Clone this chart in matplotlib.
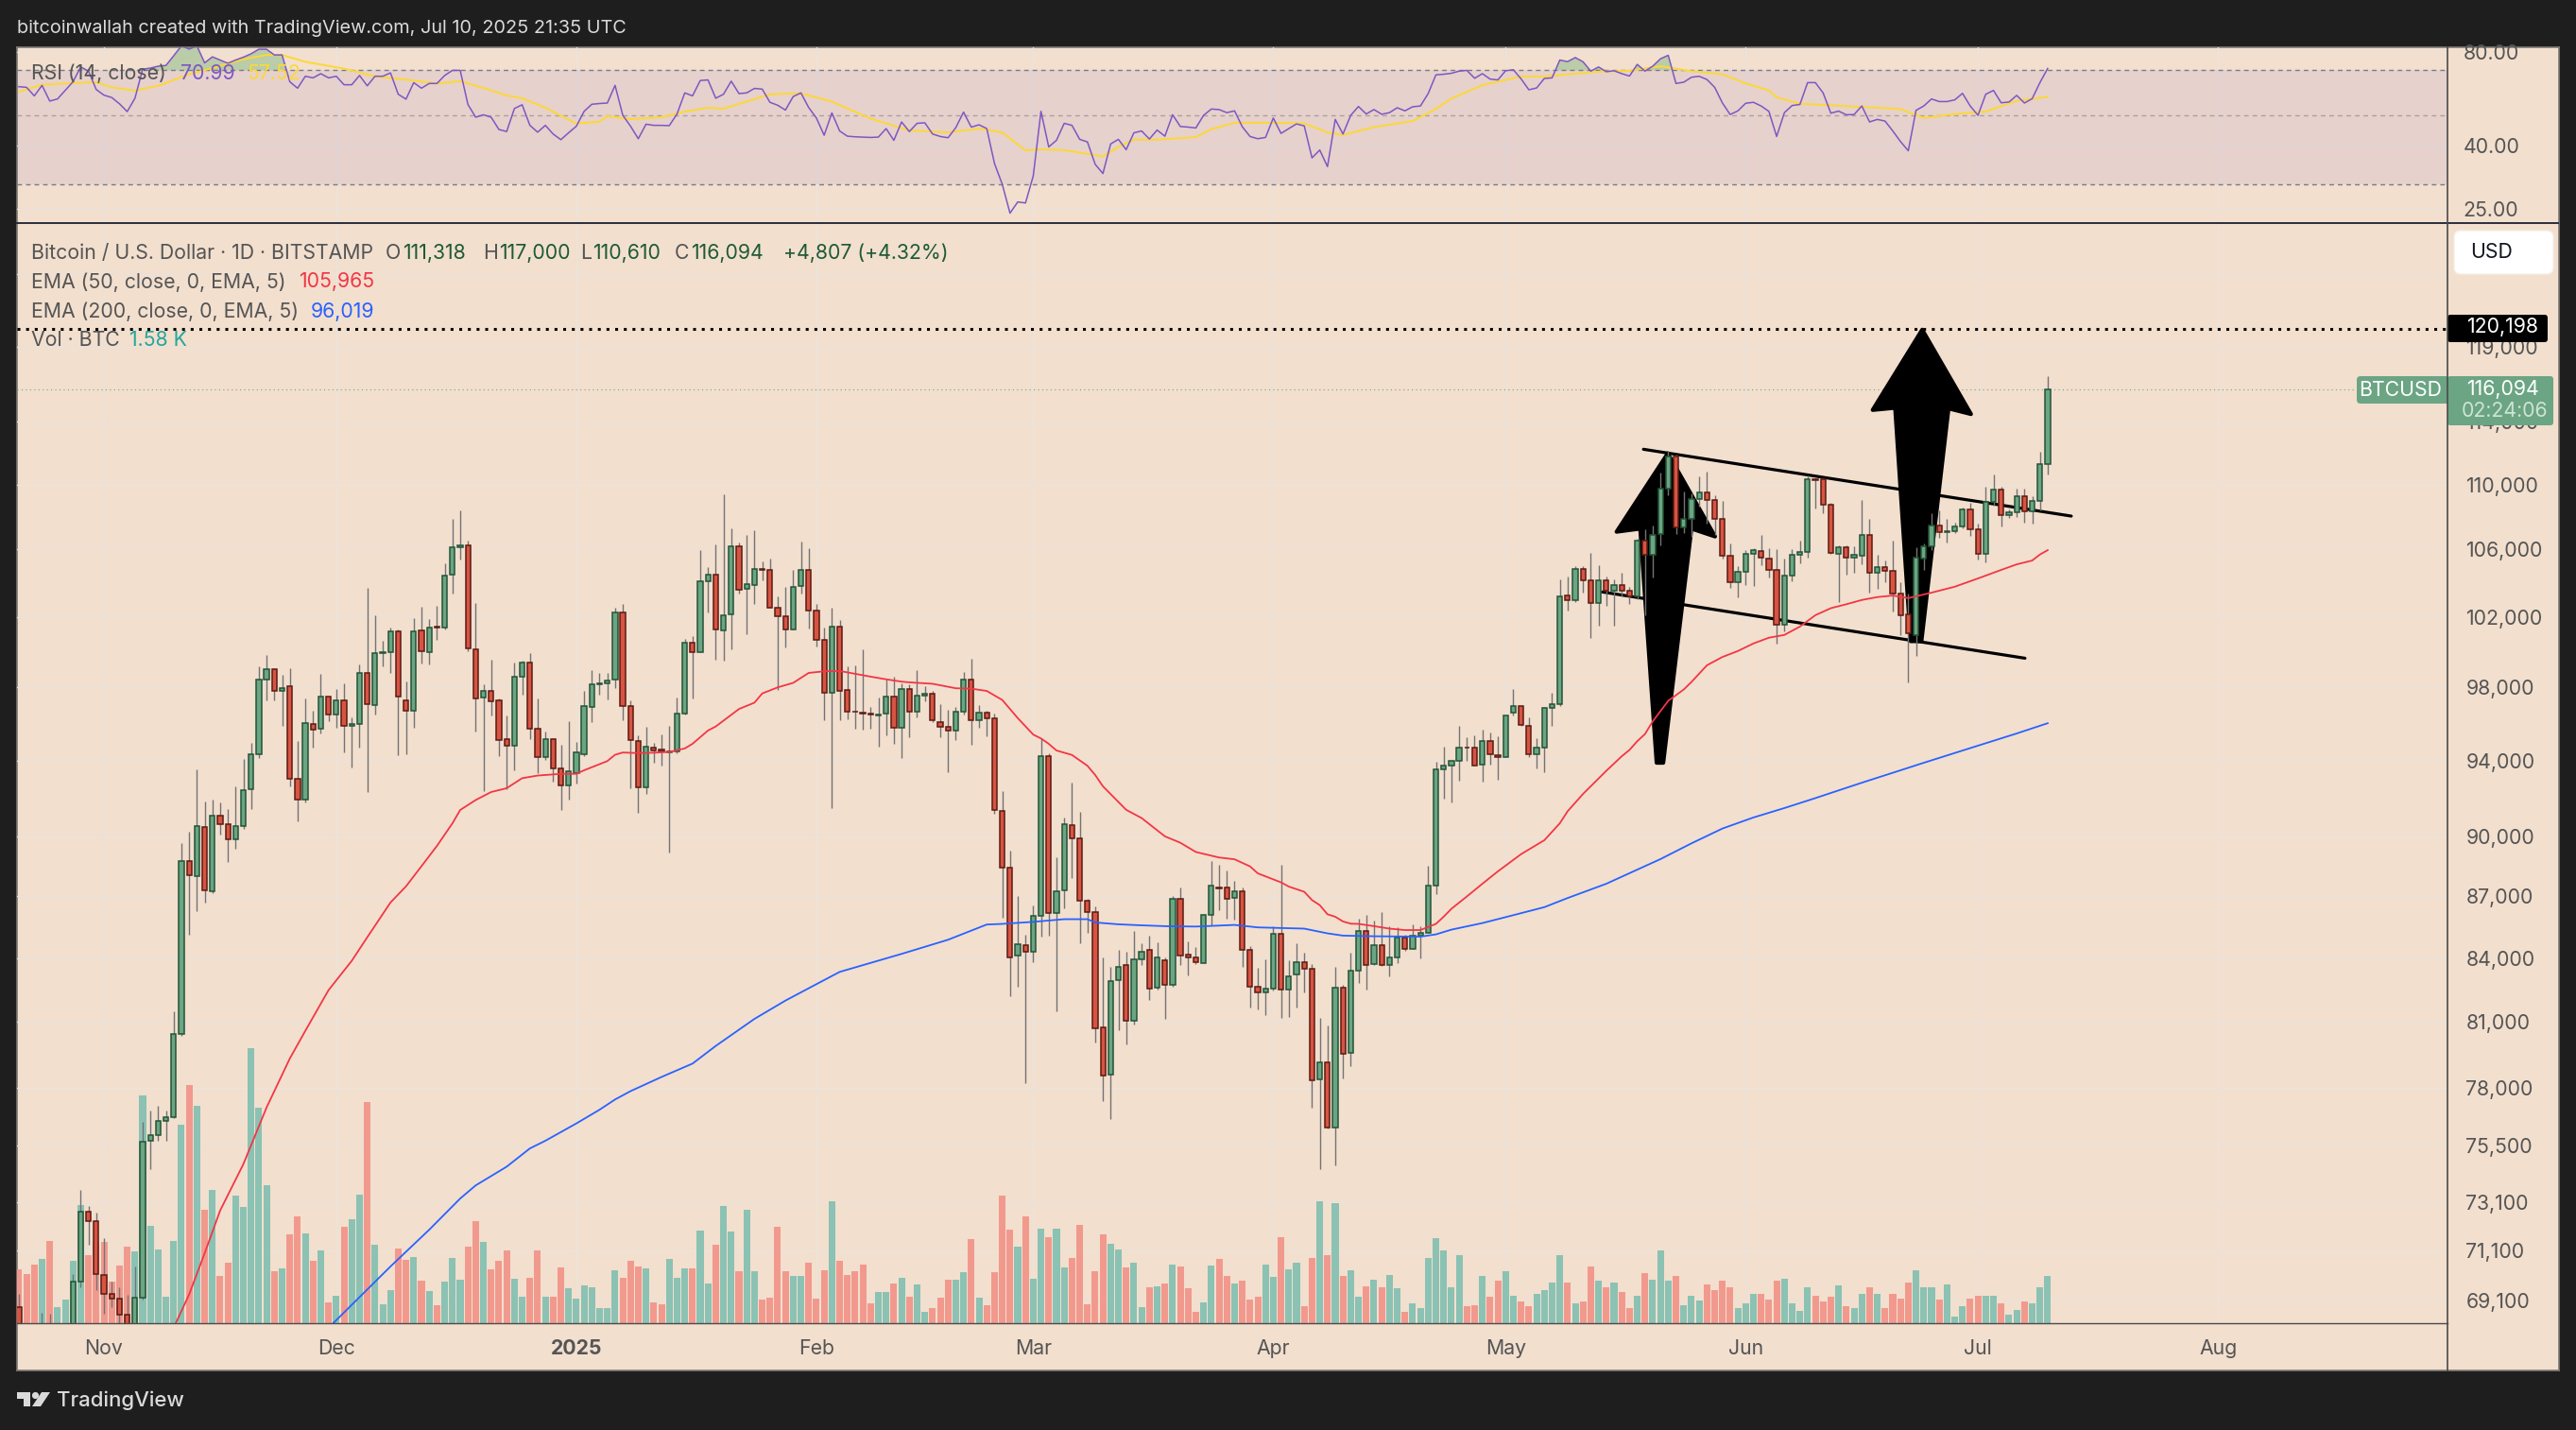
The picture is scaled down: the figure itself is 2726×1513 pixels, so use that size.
import matplotlib
matplotlib.use('Agg')
import matplotlib.pyplot as plt
from matplotlib.patches import FancyBboxPatch, Polygon, Circle
from matplotlib.ticker import NullLocator
import numpy as np
import pandas as pd

plt.rcParams['font.family'] = ['Inter', 'DejaVu Sans']

W, H = 2726, 1513
DPI = 100

# daily candles, Oct 21 2024 .. Jul 10 2025 (first seven sit below the pane)
opens = [
    68840, 67400, 67360, 66650, 68170, 66640, 66800, 67950, 69850, 72700,
    72330, 70110, 69380, 69200, 68570, 67800, 69230, 75690, 75950, 76550,
    76740, 80450, 88760, 88030, 90500, 87270, 91090, 90640, 89860, 90540,
    92470, 94360, 98450, 99000, 97780, 98040, 93010, 91930, 95970, 95710,
    97510, 96490, 97260, 95860, 95970, 98790, 97000, 99930, 99960, 101200,
    97300, 96690, 101250, 100000, 101430, 101410, 104490, 106120, 106230, 100130,
    97410, 97780, 97260, 95140, 94780, 98620, 99370, 95710, 94180, 95140,
    93560, 92670, 93350, 94360, 96900, 98150, 98200, 98410, 102270, 96950,
    95040, 92570, 94710, 94570, 94460, 94490, 96570, 100500, 99960, 104130,
    104480, 101230, 102170, 106170, 103670, 103900, 104860, 104750, 102570, 102060,
    101310, 103800, 104750, 102390, 100660, 97700, 101460, 97880, 96660, 96600,
    96530, 96460, 96550, 97490, 95760, 97930, 96630, 97530, 97660, 96070,
    95810, 95600, 96630, 98410, 96170, 96590, 96280, 91360, 88430, 84140,
    84600, 84310, 86030, 94240, 86170, 87280, 90610, 89920, 86770, 86220,
    80730, 78590, 82930, 83690, 81070, 83960, 84370, 82580, 83910, 82710,
    86860, 84180, 84050, 83780, 86090, 87460, 87460, 86950, 87240, 84370,
    82620, 82360, 82530, 85150, 82490, 83200, 83820, 83510, 78380, 79150,
    76290, 82580, 79580, 83380, 85290, 83730, 84600, 83650, 84050, 84970,
    84460, 85060, 85200, 87520, 93510, 93750, 94000, 94710, 94670, 93800,
    95040, 94270, 94170, 96580, 96950, 95860, 94320, 94720, 96840, 97050,
    103240, 103010, 104820, 104150, 102800, 104150, 103520, 103870, 103520, 103190,
    106530, 105680, 106930, 109730, 111760, 107340, 107840, 109090, 109500, 109040,
    107840, 105630, 104040, 104660, 105730, 105900, 105460, 104780, 101570, 104440,
    105680, 105850, 110310, 110310, 108740, 105730, 106130, 105510, 105630, 106870,
    104620, 104960, 104730, 103350, 102170, 100960, 105450, 106190, 107470, 107060,
    107120, 107410, 108460, 107230, 105730, 108920, 109660, 108110, 108280, 109270,
    108340, 108980, 111318,
]
highs = [
    69380, 67800, 67600, 68650, 68600, 67300, 68200, 70160, 73620, 72950,
    72650, 71630, 69850, 69640, 69330, 70480, 76500, 77000, 77240, 77030,
    81500, 89680, 90260, 93520, 91850, 91940, 91800, 91450, 92630, 94070,
    94950, 99170, 99830, 99070, 98700, 99050, 95060, 97360, 96720, 98760,
    97510, 97900, 98210, 96340, 99290, 103690, 102110, 100610, 101410, 101270,
    98310, 101950, 102580, 101910, 102640, 105170, 107860, 108380, 106520, 102840,
    98160, 99550, 97360, 96450, 99420, 99480, 99920, 97360, 95550, 95140,
    94850, 96120, 94980, 97790, 98960, 98810, 98810, 102520, 102780, 97280,
    95360, 95830, 94970, 95410, 95860, 97410, 100740, 100880, 105960, 104950,
    106300, 109370, 107270, 106400, 106880, 107180, 105280, 105450, 103190, 103760,
    104790, 106480, 106080, 102740, 101410, 102570, 101810, 99200, 99260, 100160,
    96910, 97410, 98460, 98570, 98200, 98160, 98960, 98050, 97790, 97050,
    96740, 96890, 98850, 99600, 97020, 96690, 96530, 92370, 89300, 87020,
    85120, 86550, 95190, 94410, 88980, 91020, 92840, 91310, 86860, 86500,
    84010, 83560, 84410, 84280, 85310, 84710, 85080, 84760, 84010, 87020,
    87460, 84800, 84520, 86150, 88780, 88590, 88300, 87770, 87460, 84570,
    83530, 83930, 85520, 88590, 83880, 84710, 84240, 83730, 81170, 80830,
    83560, 82710, 84240, 85910, 86090, 85820, 86250, 85540, 85490, 85110,
    85630, 85540, 88550, 93920, 94750, 94050, 95860, 95260, 95350, 95660,
    95520, 95300, 96420, 97930, 96950, 96320, 95210, 96900, 97720, 104230,
    104380, 105010, 105010, 105820, 105060, 104380, 104230, 104600, 103750, 106670,
    107220, 107450, 110730, 112100, 111860, 109570, 109420, 110520, 110820, 109350,
    109000, 106380, 105010, 105980, 106060, 106900, 106070, 106020, 105460, 106040,
    106530, 110600, 110390, 110390, 108840, 106250, 106270, 106190, 109060, 107850,
    105700, 105320, 106550, 104060, 103350, 106150, 106380, 108220, 108420, 107840,
    107640, 108580, 108860, 107600, 109840, 110630, 109860, 108460, 109750, 109750,
    109290, 112060, 117000,
]
lows = [
    67000, 66600, 65300, 65300, 65600, 66500, 66600, 67500, 69650, 71340,
    69510, 68600, 68860, 68000, 66800, 67450, 69150, 74500, 75710, 75710,
    76680, 80370, 85130, 86280, 86690, 87160, 90130, 88730, 89400, 90430,
    91450, 94140, 97300, 97300, 95850, 92640, 90780, 91800, 94700, 95470,
    96150, 95790, 94450, 93650, 94700, 92330, 96500, 99200, 98820, 94310,
    94350, 95790, 99340, 99290, 100680, 101290, 103380, 105400, 100040, 95590,
    92360, 96450, 94230, 92470, 93490, 97590, 95170, 93330, 94020, 92900,
    91390, 91940, 92800, 94260, 96090, 97590, 97330, 97950, 96200, 92550,
    91240, 92240, 93890, 93730, 89220, 94400, 96500, 97380, 99960, 102260,
    99570, 99510, 100170, 103390, 100990, 102760, 104180, 102520, 97860, 100270,
    101310, 103390, 101340, 100310, 96210, 91490, 96210, 96260, 95740, 95690,
    95740, 94760, 95370, 94910, 94140, 95280, 96360, 97210, 96090, 95280,
    93390, 95080, 96510, 94870, 95790, 95320, 91200, 85960, 82190, 82640,
    78240, 83810, 85050, 85090, 81500, 86420, 87900, 84720, 85230, 80050,
    77410, 76640, 80630, 79950, 80860, 83670, 82030, 82490, 81140, 82620,
    83660, 83190, 83720, 83780, 85570, 86340, 85920, 85880, 83580, 81670,
    81590, 81320, 82440, 81190, 81230, 81670, 82390, 77130, 74490, 76250,
    74650, 78450, 78970, 82830, 82520, 83690, 83630, 83130, 83760, 84340,
    84420, 83970, 85200, 87120, 92000, 91800, 92950, 93970, 93720, 92890,
    93790, 92990, 94170, 96460, 95860, 94200, 93590, 93400, 95900, 96980,
    102360, 102880, 103450, 100800, 101500, 102660, 101500, 103190, 102740, 103070,
    102130, 104300, 106240, 109300, 106950, 106990, 106760, 108610, 107600, 106900,
    105430, 103720, 103160, 103890, 103800, 105040, 104300, 100480, 101160, 104100,
    105150, 105490, 108500, 108200, 105720, 102880, 104470, 104590, 105100, 103450,
    103640, 104020, 102320, 100960, 98300, 99750, 104780, 105960, 106710, 106400,
    107000, 107310, 106830, 105380, 105230, 108690, 107410, 107930, 107970, 107620,
    107560, 108400, 110610,
]
closes = [
    67400, 67360, 66650, 68170, 66640, 66800, 67950, 69850, 72700, 72330,
    70160, 69380, 69180, 68570, 67800, 69230, 75660, 75950, 76550, 76710,
    80450, 88760, 88040, 90540, 87320, 91090, 90640, 89860, 90540, 92420,
    94360, 98450, 99000, 97780, 97980, 93050, 91930, 96020, 95660, 97510,
    96490, 97300, 95860, 95970, 98790, 97050, 99920, 99960, 101200, 97470,
    96690, 101200, 100060, 101410, 101390, 104430, 106120, 106230, 100180, 97360,
    97780, 97210, 95090, 94780, 98620, 99370, 95710, 94180, 95140, 93560,
    92670, 93410, 94420, 96950, 98150, 98200, 98360, 102270, 96950, 95090,
    92570, 94740, 94560, 94500, 94490, 96530, 100500, 99960, 104130, 104480,
    101290, 102110, 106170, 103620, 103950, 104860, 104750, 102570, 102060, 101310,
    103740, 104750, 102390, 100660, 97700, 101460, 97820, 96640, 96630, 96570,
    96480, 96500, 97490, 95760, 97930, 96630, 97550, 97660, 96170, 95810,
    95600, 96630, 98410, 96170, 96590, 96280, 91410, 88430, 84040, 84650,
    84310, 86030, 94240, 86170, 87240, 90650, 89920, 86770, 86220, 80690,
    78550, 82890, 83600, 81070, 83960, 84320, 82530, 84050, 82710, 86860,
    84140, 84050, 83820, 86090, 87520, 87420, 86890, 87240, 84370, 82620,
    82360, 82530, 85150, 82490, 83110, 83820, 83510, 78340, 79150, 76290,
    82580, 79540, 83380, 85290, 83690, 84600, 83690, 84050, 84970, 84460,
    85060, 85200, 87520, 93510, 93750, 94000, 94720, 94670, 93750, 95040,
    94320, 94170, 96420, 96950, 95910, 94320, 94720, 96840, 97050, 103220,
    103010, 104820, 104150, 102800, 104150, 103520, 103870, 103520, 103190, 106530,
    105680, 106870, 109730, 111760, 107340, 107840, 109090, 109500, 109040, 107840,
    105630, 104040, 104660, 105730, 105960, 105510, 104780, 101570, 104440, 105680,
    105850, 110310, 110290, 108740, 105790, 106130, 105510, 105680, 106870, 104620,
    104960, 104730, 103360, 102110, 101040, 105500, 106190, 107470, 107060, 107120,
    107410, 108460, 107230, 105730, 108920, 109660, 108110, 108280, 109270, 108340,
    108980, 111318, 116094,
]
volumes = [
    1795, 1630, 1960, 2140, 2750, 530, 795, 2080, 3940, 2265,
    2710, 2710, 1390, 1920, 2550, 2405, 7630, 3245, 2470, 875,
    2755, 6630, 7955, 7260, 3795, 4445, 1570, 2020, 4265, 3875,
    9180, 7200, 4610, 1735, 1835, 2960, 3570, 3000, 2080, 2430,
    695, 920, 3225, 3470, 4285, 7385, 2610, 630, 1100, 2490,
    2120, 2205, 1430, 1080, 590, 1390, 2180, 1450, 2550, 3405,
    2715, 1795, 2080, 2430, 1490, 875, 1510, 2430, 875, 875,
    1855, 1165, 815, 1265, 1205, 510, 510, 1775, 1510, 2080,
    1895, 1835, 695, 630, 2140, 1510, 1835, 1835, 3100, 1325,
    2610, 3915, 3060, 1735, 3795, 1735, 795, 855, 3225, 1735,
    1570, 1570, 2020, 815, 1775, 4080, 2080, 1610, 1735, 1960,
    655, 1040, 1040, 1325, 1510, 875, 1285, 390, 510, 855,
    1450, 1450, 1695, 2815, 855, 590, 1695, 4265, 3120, 2550,
    3570, 1490, 3160, 2875, 3160, 1855, 2180, 3285, 630, 1735,
    2960, 2650, 2470, 1855, 2020, 530, 1205, 1225, 1325, 1960,
    1895, 1165, 390, 695, 1920, 2140, 1570, 1325, 1430, 795,
    875, 1960, 1550, 2875, 1795, 2020, 570, 2180, 4080, 2265,
    4000, 1570, 1775, 875, 1225, 1450, 1205, 1610, 1165, 390,
    655, 495, 2195, 2845, 2420, 1210, 2285, 560, 605, 1590,
    895, 1410, 1745, 920, 715, 580, 965, 1100, 1345, 2285,
    1345, 650, 740, 1905, 1435, 1185, 1345, 1030, 495, 920,
    1680, 1455, 2420, 1410, 1590, 605, 920, 760, 1300, 1100,
    1435, 1210, 515, 670, 965, 965, 805, 1410, 1500, 650,
    405, 1185, 920, 740, 875, 1275, 560, 515, 965, 1185,
    985, 495, 985, 830, 1365, 1770, 1185, 1210, 805, 1300,
    225, 560, 830, 920, 920, 920, 650, 270, 450, 740,
    670, 1210, 1580,
]
rsi = [
    62, 61.7, 57.9, 62.6, 55.7, 56.6, 60.3, 64.3, 71.8, 69.6,
    60.7, 58.2, 57.2, 54.6, 51.5, 56.9, 70.6, 71.2, 72.2, 72.6,
    78, 84, 82, 84, 74, 77.4, 75.6, 73.8, 75.6, 77.2,
    79.2, 81.9, 81.9, 78.5, 78.5, 64.3, 61.3, 67, 66.2, 68.3,
    66.2, 67, 62.9, 62.9, 67.4, 62.4, 67, 67, 68.7, 58.6,
    56.5, 63.9, 61.3, 63.5, 63.5, 67.4, 70, 70, 54.3, 49.4,
    50.3, 49.4, 45.1, 44.4, 52.7, 54.2, 46.5, 44.2, 46.5, 43.6,
    41.8, 44, 46.2, 51.6, 54.4, 54.7, 54.9, 62.6, 50.1, 46.2,
    42.1, 46.9, 46.5, 46.5, 46.4, 50.6, 59.2, 57.9, 64.9, 65.2,
    56.9, 58.6, 64.6, 58.9, 59.2, 61.2, 60.9, 55.2, 54, 52.1,
    57.6, 59.2, 53.1, 49.1, 43.2, 51, 44.6, 42.9, 42.7, 42.6,
    42.5, 42.6, 45.4, 41.6, 47.7, 44.4, 47.2, 47.4, 43.6, 42.8,
    42.4, 45.7, 51.3, 45.9, 46.7, 45.4, 35, 30, 24.2, 26.3,
    26.1, 31.9, 51.6, 39.6, 41.6, 47.2, 46.5, 41.9, 41.1, 34.8,
    32.5, 40.5, 41.9, 38.8, 44, 44.6, 42, 44.9, 42.9, 50.3,
    46.1, 45.9, 45.6, 50.1, 52.5, 52.3, 51.1, 51.8, 46, 42.8,
    42.1, 42.5, 49.1, 43.8, 45.4, 47, 46.3, 36.5, 38.7, 34.2,
    48.6, 43.6, 50.1, 53.5, 50.6, 52.3, 50.5, 51.1, 53, 51.8,
    53.4, 53.7, 58.9, 67.7, 68, 68.5, 69.6, 70, 66, 68.3,
    65.6, 65.2, 69.8, 70.3, 65.7, 60.6, 61.4, 65.9, 66.2, 75.6,
    74.7, 77, 74.6, 69.6, 71.8, 69.3, 69.8, 68.3, 67.1, 73.2,
    69.6, 72.2, 76.3, 78.3, 63.5, 64.1, 66.5, 67, 65.4, 61.7,
    54.9, 50.4, 51.8, 54.8, 55.2, 53.7, 51.6, 42.8, 51.1, 53.9,
    54.3, 63.9, 63.9, 59.2, 50.9, 51.7, 50.3, 50.4, 53.7, 47.7,
    48.6, 48, 44.6, 41.2, 38.5, 52, 53.7, 56.6, 55.5, 55.5,
    56.2, 59, 53.7, 50.1, 58.6, 60.3, 55, 55.3, 58.1, 54.9,
    56.7, 63.9, 70.99,
]

# smooth overlays, read at knots along each line: (day index, value)
rsi_ma_days = [0, 3, 7, 10, 12, 15, 18, 22, 25, 29, 32, 34, 37, 42, 46, 51, 54, 57, 60, 63, 65, 68, 72, 75, 76,
               79, 83, 86, 89, 91, 94, 97, 101, 105, 110, 115, 120, 124, 127, 130, 132, 135, 140, 142, 144, 147,
               152, 154, 157, 161, 166, 169, 171, 175, 180, 183, 185, 189, 194, 197, 204, 208, 212, 216, 220,
               223, 226, 227, 230, 234, 240, 243, 246, 250, 254, 258, 262]
rsi_ma = [59.7, 62.9, 63.7, 64.1, 61.7, 60.2, 62.4, 68, 71.2, 76, 78.5, 78.5, 74.6, 70.9, 66.9, 64.9, 63.5, 64.6, 61.4,
          58.1, 56.9, 53, 47.1, 47.8, 49.8, 48.7, 49.4, 51.5, 53, 52.6, 55.5, 58.6, 59, 55.5, 48.9, 44.8, 44.1, 45.4,
          44.1, 38.6, 38.9, 38.7, 36.9, 39.6, 41.8, 41.8, 42.6, 45.2, 47.4, 47.4, 47.2, 44.1, 43.3, 45.9, 48, 52.5,
          56.8, 62.7, 66.9, 66.9, 69.3, 69.8, 72.2, 69.6, 68, 63.5, 60.3, 57.3, 54.6, 54, 53, 52.5, 49.1, 50.6, 51.5,
          55.8, 57.52]

ema50_days = [20, 22, 24, 26, 29, 32, 35, 37, 40, 43, 45, 48, 50, 52, 54, 56, 57, 59, 61, 63, 65, 67, 70, 72, 73, 76,
              77, 78, 80, 82, 84, 86, 87, 89, 90, 93, 95, 96, 98, 100, 102, 104, 106, 110, 112, 114, 115, 118, 121,
              123, 125, 127, 129, 131, 132, 133, 134, 136, 138, 139, 140, 141, 143, 145, 148, 150, 152, 155, 157,
              159, 160, 163, 164, 166, 167, 168, 169, 170, 171, 172, 173, 175, 177, 179, 181, 183, 184, 185, 187,
              189, 191, 194, 197, 199, 200, 202, 205, 207, 208, 209, 210, 211, 213, 215, 216, 218, 220, 222, 224,
              226, 228, 230, 232, 234, 236, 238, 240, 242, 244, 247, 250, 253, 256, 258, 260, 261, 262]
ema50 = [68050, 69360, 71000, 72750, 74700, 77150, 79330, 80590, 82480, 83870, 85000, 86700, 87500, 88510, 89540,
         90700, 91390, 91910, 92330, 92530, 93060, 93200, 93290, 93290, 93480, 93970, 94310, 94430, 94400, 94420,
         94460, 94650, 94900, 95620, 95840, 96800, 97150, 97660, 98000, 98250, 98810, 98900, 98920, 98600, 98450,
         98320, 98280, 98200, 97950, 97930, 97800, 97300, 96300, 95400, 95190, 94900, 94540, 94300, 93720, 93230,
         92630, 92220, 91400, 90970, 90030, 89700, 89230, 88950, 88860, 88500, 88150, 87700, 87490, 87230, 86820,
         86570, 86120, 86000, 85770, 85660, 85650, 85540, 85420, 85350, 85350, 85650, 86000, 86390, 87000, 87630,
         88250, 89120, 89830, 90700, 91320, 92230, 93450, 94230, 94570, 95040, 95430, 96120, 97250, 97880, 98300,
         99240, 99710, 100050, 100480, 100810, 100970, 101450, 102110, 102520, 102750, 103000, 103170, 103260,
         103110, 103430, 103780, 104270, 104780, 105110, 105340, 105700, 105965]

ema200_days = [40, 44, 48, 53, 57, 59, 63, 66, 68, 72, 75, 77, 79, 83, 87, 90, 95, 99, 103, 106, 114, 120, 125, 127,
               131, 135, 138, 139, 142, 145, 148, 152, 157, 160, 166, 169, 171, 175, 181, 183, 185, 189, 192, 197,
               200, 205, 208, 212, 216, 220, 224, 228, 232, 234, 238, 243, 246, 253, 258, 262]
ema200 = [68050, 69250, 70470, 71960, 73250, 73800, 74590, 75370, 75700, 76450, 77050, 77500, 77870, 78500, 79100,
          79900, 81140, 81990, 82760, 83340, 84200, 84880, 85620, 85650, 85750, 85880, 85880, 85720, 85630, 85580,
          85540, 85520, 85600, 85480, 85420, 85190, 85080, 85050, 85030, 85140, 85370, 85690, 85980, 86470, 86920,
          87630, 88160, 88870, 89670, 90430, 91000, 91490, 92010, 92280, 92820, 93480, 93880, 94800, 95460, 96019]

price_ticks = [124000, 119000, 114000, 110000, 106000, 102000, 98000, 94000, 90000, 87000, 84000, 81000, 78000,
               75500, 73100, 71100, 69100]
rsi_ticks = [80, 40, 25]
month_dates = ['2024-11-01', '2024-12-01', '2025-01-01', '2025-02-01', '2025-03-01', '2025-04-01', '2025-05-01',
               '2025-06-01', '2025-07-01', '2025-08-01']
month_labels = ['Nov', 'Dec', '2025', 'Feb', 'Mar', 'Apr', 'May', 'Jun', 'Jul', 'Aug']

# drawings on the chart, (day index, price)
target_price = 120198
last_price = 116094
upper_channel_x, upper_channel_y = [209.8, 265.05], [112230, 108040]
lower_channel_x, lower_channel_y = [204.5, 259.07], [103470, 99640]
arrow1_x = [212.95, 206.33, 209.38, 211.5, 212.36, 216.0, 219.05]
arrow1_y = [111970, 107080, 107270, 93880, 93880, 107270, 106790]
arrow2_x = [245.8, 239.4, 242.3, 244.3, 245.7, 249.2, 252.1]
arrow2_y = [120140, 114770, 114910, 100610, 100610, 114870, 114500]

BG = '#F2DFCE'
DARK = '#1E1E1E'
GRID = '#EBE3DC'
TXT = '#555555'
UP, UP_EDGE = '#6BA583', '#225437'
DOWN, DOWN_EDGE = '#D75442', '#5B1A13'
WICK = '#737375'
VOL_UP, VOL_DOWN = '#8BC2B3', '#F2998E'
FS = 15.3

start = pd.Timestamp('2024-10-21')
days = np.arange(len(closes))
month_pos = [(pd.Timestamp(d) - start).days for d in month_dates]
o, h, l, c = map(np.array, (opens, highs, lows, closes))
rising = c >= o


def px_axes(fig, x0, y0, x1, y1, **kw):
    return fig.add_axes([x0 / W, 1 - y1 / H, (x1 - x0) / W, (y1 - y0) / H], **kw)


fig = plt.figure(figsize=(W / DPI, H / DPI), dpi=DPI, facecolor=DARK)
XLIM = (-0.23, 313.63)
PRICE_LIM = (68230, 127660)

bg = px_axes(fig, 18, 49.5, 2707.5, 1449.5, facecolor=BG)
bg.set_xticks([])
bg.set_yticks([])
for s in bg.spines.values():
    s.set_color('#7D7975')
    s.set_linewidth(1.2)

# RSI pane
ax_rsi = px_axes(fig, 18, 49.5, 2590, 236)
ax_rsi.patch.set_visible(False)
ax_rsi.set_yscale('log')
ax_rsi.set_xlim(XLIM)
ax_rsi.set_ylim(22.48, 83.42)
ax_rsi.yaxis.set_minor_locator(NullLocator())
ax_rsi.yaxis.tick_right()
ax_rsi.set_yticks(rsi_ticks)
ax_rsi.set_yticklabels([f'{t:.2f}' for t in rsi_ticks], fontsize=FS, color=TXT)
ax_rsi.set_xticks(month_pos)
ax_rsi.tick_params(axis='both', length=0, labelbottom=False)
ax_rsi.tick_params(axis='y', pad=12)
ax_rsi.grid(True, color=GRID, lw=1)
ax_rsi.set_axisbelow(True)
ax_rsi.axhspan(30, 70, color='#7E57C2', alpha=0.1, lw=0)
for lvl, col in ((70, '#787B86'), (50, '#ACA29E'), (30, '#787B86')):
    ax_rsi.axhline(lvl, color=col, lw=1, ls=(0, (3.5, 3)))
ax_rsi.fill_between(days, rsi, 70, where=np.array(rsi) > 70, interpolate=True, color='#8DBE8A', alpha=0.55, lw=0)
ax_rsi.plot(rsi_ma_days, rsi_ma, color='#FDD835', lw=1.4)
ax_rsi.plot(days, rsi, color='#7E57C2', lw=1.1)
for s in ax_rsi.spines.values():
    s.set_visible(False)

# price pane: grid and labels below, then volume, then candles
ax_grid = px_axes(fig, 18, 236, 2590, 1400)
ax_grid.patch.set_visible(False)
ax_grid.set_yscale('log')
ax_grid.set_xlim(XLIM)
ax_grid.set_ylim(PRICE_LIM)
ax_grid.yaxis.set_minor_locator(NullLocator())
ax_grid.yaxis.tick_right()
ax_grid.set_yticks(price_ticks)
# the 124,000 label sits hidden behind the currency button
ax_grid.set_yticklabels(['' if t == 124000 else f'{t:,}' for t in price_ticks], fontsize=FS, color=TXT)
ax_grid.set_xticks(month_pos)
ax_grid.set_xticklabels(month_labels, fontsize=FS, color=TXT)
ax_grid.get_xticklabels()[2].set_fontweight('bold')
ax_grid.tick_params(axis='both', length=0)
ax_grid.tick_params(axis='y', pad=14)
ax_grid.tick_params(axis='x', pad=12.5)
ax_grid.grid(True, color=GRID, lw=1)
ax_grid.set_axisbelow(True)
for s in ax_grid.spines.values():
    s.set_visible(False)

ax_vol = px_axes(fig, 18, 236, 2590, 1400)
ax_vol.patch.set_visible(False)
ax_vol.set_xlim(XLIM)
ax_vol.set_ylim(0, 36780)
ax_vol.axis('off')
ax_vol.bar(days, volumes, width=0.86, color=[VOL_UP if r else VOL_DOWN for r in rising], lw=0)

ax = px_axes(fig, 18, 236, 2590, 1400)
ax.patch.set_visible(False)
ax.set_yscale('log')
ax.set_xlim(XLIM)
ax.set_ylim(PRICE_LIM)
ax.axis('off')

ax.axhline(last_price, color=UP, lw=0.8, ls=(0, (1, 3)), zorder=1)
ax.plot(upper_channel_x, upper_channel_y, color='black', lw=2.3, solid_capstyle='round', zorder=1.2)
ax.plot(lower_channel_x, lower_channel_y, color='black', lw=2.3, solid_capstyle='round', zorder=1.2)
for ax_, ay_ in ((arrow1_x, arrow1_y), (arrow2_x, arrow2_y)):
    ax.add_patch(Polygon(np.column_stack([ax_, ay_]), closed=True, facecolor='black', edgecolor='black',
                         lw=3, joinstyle='round', zorder=1.3))

ax.vlines(days, l, h, color=WICK, lw=1.0, zorder=2)
ax.bar(days, np.abs(c - o), bottom=np.minimum(o, c), width=0.64,
       color=[UP if r else DOWN for r in rising], edgecolor=[UP_EDGE if r else DOWN_EDGE for r in rising],
       lw=1.1, zorder=3)
ax.plot(ema50_days, ema50, color='#F23645', lw=1.3, zorder=4)
ax.plot(ema200_days, ema200, color='#2962FF', lw=1.3, zorder=4)
ax.axhline(target_price, color='black', lw=2.2, ls=(0, (1, 2)), zorder=5)

# overlay in pixels for the header, legends and price tags
ov = fig.add_axes([0, 0, 1, 1])
ov.set_xlim(0, W)
ov.set_ylim(H, 0)
ov.axis('off')
ov.patch.set_visible(False)


def put(x, y, s, color=TXT, size=FS, ha='left', **kw):
    ov.text(x, y, s, color=color, fontsize=size, ha=ha, va='center', **kw)


ov.plot([18, 2707], [236, 236], color='#2A2E39', lw=1.4)
ov.plot([18, 2590], [1400, 1400], color='#4A4A4A', lw=1.0)
ov.plot([2590, 2590], [49.5, 1449.5], color='#4A4A4A', lw=1.2)

put(18, 30, 'bitcoinwallah created with TradingView.com, Jul 10, 2025 21:35 UTC', color='#DADADA', size=14.3)

put(32.6, 78, 'RSI (14, close)')
put(191, 78, '70.99', color='#7E57C2')
put(261, 78, '57.52', color='#FDD835')

GREEN_TXT = '#1F5A36'
put(32.6, 267.5, 'Bitcoin / U.S. Dollar · 1D · BITSTAMP')
for xpos, letter, val in ((408, 'O', '111,318'), (511, 'H', '117,000'), (614, 'L', '110,610'), (714, 'C', '116,094')):
    t = ov.text(xpos, 267.5, letter, color=TXT, fontsize=FS, va='center')
    ov.annotate(val, xy=(1, 0.5), xycoords=t, xytext=(1, 0), textcoords='offset points',
                color=GREEN_TXT, fontsize=FS, va='center')
put(829, 267.5, '+4,807 (+4.32%)', color=GREEN_TXT)
put(32.6, 298.5, 'EMA (50, close, 0, EMA, 5)')
put(315.6, 298.5, '105,965', color='#F23645')
put(32.6, 329.5, 'EMA (200, close, 0, EMA, 5)')
put(329, 329.5, '96,019', color='#2962FF')
put(32.6, 360, 'Vol · BTC')
put(137, 360, '1.58 K', color='#26A69A')

ov.add_patch(FancyBboxPatch((2600, 247), 99, 40, boxstyle='round,pad=3,rounding_size=7', fc='white', ec='#F6EEE7', lw=1))
put(2613.8, 267, 'USD', color='#131722')

ov.add_patch(FancyBboxPatch((2592, 335), 102, 25, boxstyle='round,pad=2,rounding_size=3', fc='black', ec='none'))
put(2648.5, 346.5, '120,198', color='white', ha='center')

ov.add_patch(FancyBboxPatch((2496, 400), 94, 25, boxstyle='round,pad=2,rounding_size=4', fc=UP, ec='none'))
ov.add_patch(FancyBboxPatch((2592, 400), 108, 48, boxstyle='round,pad=2,rounding_size=3', fc=UP, ec='none'))
put(2540, 413, 'BTCUSD', color='white', ha='center')
put(2648.5, 412, '116,094', color='white', ha='center')
put(2651, 435, '02:24:06', color='#CFE3D7', ha='center')

# TradingView mark and name
LOGO = '#DADADA'
ov.add_patch(Polygon([(18, 1473), (32, 1473), (32, 1488), (25, 1488), (25, 1480), (18, 1480)], closed=True, fc=LOGO, ec='none'))
ov.add_patch(Circle((37.5, 1476.5), 3.6, fc=LOGO, ec='none'))
ov.add_patch(Polygon([(44, 1473), (53, 1473), (43, 1488), (34, 1488)], closed=True, fc=LOGO, ec='none'))
put(60, 1482, 'TradingView', color=LOGO, size=16, fontweight='medium')

fig.savefig('out.png', dpi=DPI, facecolor=DARK)
